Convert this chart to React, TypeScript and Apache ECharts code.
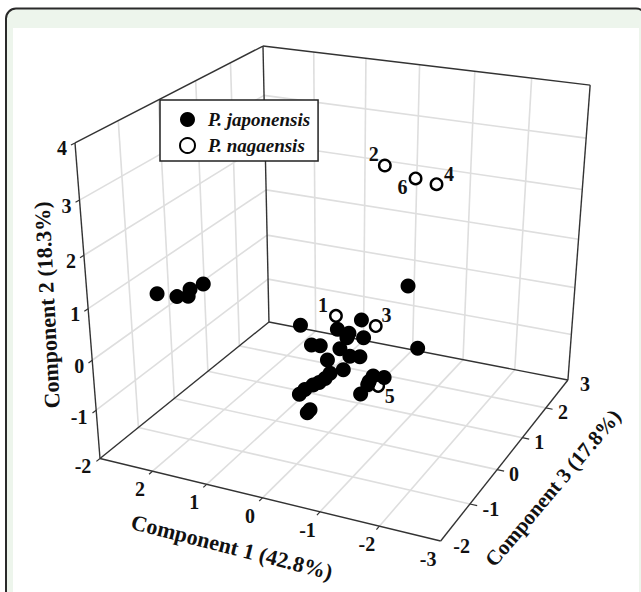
import React, { useEffect, useRef } from "react";
import * as echarts from "echarts";

const seriesNames = ["P. japonensis", "P. nagaensis"];
const japC1 = [2.10,1.74,1.61,1.57,1.40,-0.63,0.81,0.01,-0.20,-0.22,-0.26,-0.41,-1.08,0.31,0.15,-0.15,-0.33,-0.51,0.02,-0.38,-0.20,-0.11,-0.06,0.05,0.14,0.24,-0.07,-0.02,-0.91,-0.84,-1.05,-0.80,-0.87];
const japC2 = [1.20,1.22,1.20,1.34,1.42,0.34,-0.23,-0.03,-0.07,-0.10,0.05,-0.17,-0.58,-0.25,-0.23,-0.28,-0.39,-0.36,-0.49,-0.48,-0.53,-0.66,-0.69,-0.77,-0.82,-0.94,-1.06,-1.13,-0.48,-0.61,-0.54,-0.75,-0.61];
const japC3 = [-1.5,-1.5,-1.4,-1.4,-1.3,1.5,0.5,0.3,0.3,0.2,0.6,0.4,1,0,0,0.1,0.1,0.1,0,-0.2,-0.3,-0.3,-0.4,-0.4,-0.5,-0.5,-0.7,-0.7,-0.2,-0.2,-0.1,-0.4,-0.3];
const nagLabels = ["1","2","3","4","5","6"];
const nagC1 = [0.15,-0.17,-0.52,-1.09,-1.00,-0.72];
const nagC2 = [0.10,2.65,-0.02,2.44,-0.66,2.49];
const nagC3 = [0.5,1.5,0.6,1.5,-0.2,1.5];
const c1Ticks = [3,2,1,0,-1,-2,-3];
const c2Ticks = [-2,-1,0,1,2,3,4];
const c3Ticks = [-2,-1,0,1,2,3];
const axisTitles = ["Component 1 (42.8%)","Component 2 (18.3%)","Component 3 (17.8%)"];

type P3 = [number,number,number];
const project = ([c1,c2,c3]: P3): [number,number] => {
  const u=(3-c1)/6, v=(c2+2)/6, w=(c3+2)/5;
  const den=1-0.0884*u-0.0955*v+0.1771*w;
  return [(100+301.7*u-32.16*v+216.6*w)/den,(458.5+34.7*u-329.2*v-79.5*w)/den];
};

const FONT="'Liberation Serif','Times New Roman',serif";
const segs:{a:P3;b:P3;kind:string}[]=[];
const add=(a:P3,b:P3,kind:string)=>segs.push({a,b,kind});
c1Ticks.slice(1,-1).forEach(c=>{add([c,-2,-2],[c,-2,3],"g");add([c,-2,3],[c,4,3],"g");add([c,-2,-2],[c,-2.0,-2.09],"t");});
c3Ticks.slice(1,-1).forEach(c=>{add([3,-2,c],[-3,-2,c],"g");add([3,-2,c],[3,4,c],"g");add([-3,-2,c],[-3.12,-2,c],"t");});
c2Ticks.slice(1,-1).forEach(c=>{add([3,c,-2],[3,c,3],"g");add([3,c,3],[-3,c,3],"g");});
c2Ticks.forEach(c=>add([3,c,-2],[3,c,-2.09],"t"));
add([3,-2,-2],[-3,-2,-2],"a");add([-3,-2,-2],[-3,-2,3],"a");add([-3,-2,3],[3,-2,3],"a");add([3,-2,3],[3,-2,-2],"a");
add([3,-2,-2],[3,4,-2],"a");add([3,-2,3],[3,4,3],"a");add([-3,-2,3],[-3,4,3],"a");
add([3,4,-2],[3,4,3],"a");add([3,4,3],[-3,4,3],"a");

const texts:{t:string;at:P3;dx:number;dy:number}[]=[];
c1Ticks.slice(1).forEach(c=>texts.push({t:String(c),at:[c,-2,-2],dx:-12.5,dy:18}));
c2Ticks.forEach(c=>texts.push({t:String(c),at:[3,c,-2],dx:c<0?-17:-13,dy:c<0?7:5.5}));
c3Ticks.forEach(c=>texts.push({t:String(c),at:[-3,-2,c],dx:c<0?21:17,dy:c<0?5:4}));

export default function App(){
  const ref=useRef<HTMLDivElement>(null);
  useEffect(()=>{
    document.body.style.margin="0";
    const chart=echarts.init(ref.current!,undefined,{renderer:"svg"});
    const titleStyle={fontFamily:FONT,fontWeight:"bold",fontSize:22,fill:"#111",align:"center",verticalAlign:"middle"};
    chart.setOption({
      animation:false,
      grid:{left:0,top:0,width:641,height:592},
      xAxis:{type:"value",min:0,max:641,show:false},
      yAxis:{type:"value",min:0,max:592,inverse:true,show:false},
      legend:{left:160,top:100,orient:"vertical",z:20,data:seriesNames,backgroundColor:"#fff",borderColor:"#222",borderWidth:1.5,borderRadius:0,
        padding:[10,8,6,19],itemGap:7,itemWidth:15,itemHeight:15,
        textStyle:{fontFamily:FONT,fontStyle:"italic",fontWeight:"bold",fontSize:19,color:"#111",padding:[0,0,0,8]}},
      graphic:[
        {type:"rect",z:-5,shape:{x:6,y:8.5,width:640,height:600,r:10},style:{fill:"#edf5ec",stroke:"#2a2a2a",lineWidth:2}},
        {type:"rect",z:-4,shape:{x:13,y:28,width:626,height:570},style:{fill:"#fff"}},
        {type:"text",z:5,x:232,y:547,rotation:-0.25,style:{...titleStyle,text:axisTitles[0]}},
        {type:"text",z:5,x:47,y:305,rotation:1.623,style:{...titleStyle,text:axisTitles[1]}},
        {type:"text",z:5,x:553,y:488,rotation:0.87,style:{...titleStyle,fontSize:21,text:axisTitles[2]}},
      ],
      series:[
        {type:"custom",silent:true,clip:false,z:1,data:segs.map((_,i)=>[i,0]),
          renderItem:(p:any,api:any)=>{
            const s=segs[p.dataIndex];const a=api.coord(project(s.a)),b=api.coord(project(s.b));
            const st=s.kind==="g"?{stroke:"#dedede",lineWidth:1.6}:s.kind==="a"?{stroke:"#333",lineWidth:1.4}:{stroke:"#333",lineWidth:1.2};
            return {type:"line",shape:{x1:a[0],y1:a[1],x2:b[0],y2:b[1]},style:st,z2:s.kind==="g"?0:1};
          }},
        {type:"custom",silent:true,clip:false,z:2,data:texts.map((_,i)=>[i,0]),
          renderItem:(p:any,api:any)=>{
            const s=texts[p.dataIndex];const a=api.coord(project(s.at));
            return {type:"text",x:a[0]+s.dx,y:a[1]+s.dy,style:{text:s.t,fontFamily:FONT,fontWeight:"bold",fontSize:20,fill:"#111",align:"center",verticalAlign:"middle"}};
          }},
        {name:seriesNames[1],type:"scatter",z:3,symbol:"circle",symbolSize:11.5,
          itemStyle:{color:"#fff",borderColor:"#000",borderWidth:2.4,opacity:1},
          data:nagC1.map((c,i)=>{
            const off=[[-13,-11],[-11,-12],[10.7,-11],[12.6,-10],[11.7,10],[-13,8.7]][i];
            return {value:project([c,nagC2[i],nagC3[i]]),
              label:{show:true,position:"inside",offset:off,formatter:nagLabels[i],fontFamily:FONT,fontWeight:"bold",fontSize:20,color:"#111"}};
          })},
        {name:seriesNames[0],type:"scatter",z:4,symbol:"circle",symbolSize:15,
          itemStyle:{color:"#000",opacity:1},
          data:japC1.map((c,i)=>project([c,japC2[i],japC3[i]]))},
      ],
    });
    return ()=>chart.dispose();
  },[]);
  return <div ref={ref} style={{width:641,height:592}}/>;
}
